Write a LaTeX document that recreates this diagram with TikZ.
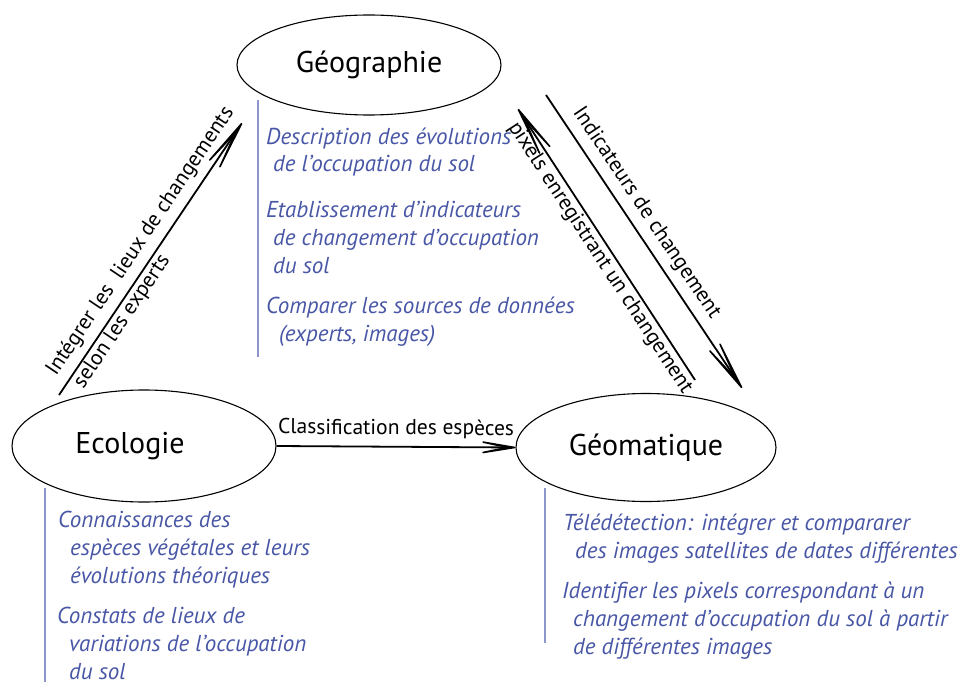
\documentclass[tikz,border=0pt]{standalone}
\usepackage{fontspec}
\setmainfont{PT Sans}
\usetikzlibrary{arrows.meta,shapes.geometric}
\definecolor{itemblue}{RGB}{72,86,166}
\definecolor{barblue}{RGB}{140,150,205}
\begin{document}
\begin{tikzpicture}[x=1pt,y=1pt,
  field/.style={draw, ellipse, line width=1.1pt, inner sep=0pt, font=\fontsize{30}{32}\selectfont},
  item/.style={anchor=base west, inner sep=0pt, align=left, text=itemblue, font=\itshape\fontsize{23}{28}\selectfont},
  flow/.style={line width=1.8pt, -{Stealth[length=98pt,width=25pt,inset=76pt,round,line width=1.6pt]}},
  flowback/.style={line width=1.8pt, {Stealth[length=98pt,width=25pt,inset=76pt,round,line width=1.6pt]}-},
  shortflow/.style={line width=1.8pt, -{Stealth[length=70pt,width=23pt,inset=54pt,round,line width=1.6pt]}},
  flowlabel/.style={font=\fontsize{21.5}{23}\selectfont, sloped, inner sep=1pt},
  bar/.style={draw=barblue, line width=1.8pt}]
\useasboundingbox (0,-682) rectangle (962,0);

% fields
\node[field, minimum width=264pt, minimum height=100pt] (geo) at (369,-65) {Géographie};
\node[field, minimum width=264pt, minimum height=112pt] (eco) at (144,-446) {Ecologie\hspace*{28pt}};
\node[field, minimum width=260pt, minimum height=108pt] (geom) at (646,-447.5) {Géomatique};

% vertical bars
\draw[bar] (258,-100) -- (258,-357);
\draw[bar] (45,-488) -- (45,-682);
\draw[bar] (545,-488) -- (545,-643);

% items (anchored at the baseline of their last line)
\node[item] (g1) at (266,-172) {Description des évolutions\\\hspace*{7pt}de l'occupation du sol};
\node[item] (g2) at (266,-273) {Etablissement d'indicateurs\\\hspace*{7pt}de changement d'occupation\\\hspace*{7pt}du sol};
\node[item] (g3) at (266,-341) {Comparer les sources de données\\\hspace*{13pt}(experts, images)};

\node[item] (e1) at (58,-583) {Connaissances des\\\hspace*{12pt}espèces végétales et leurs\\\hspace*{12pt}évolutions théoriques};
\node[item] (e2) at (57,-679) {Constats de lieux de\\\hspace*{12pt}variations de l'occupation\\\hspace*{12pt}du sol};

\node[item] (m1) at (563,-558) {Télédétection: intégrer et compararer\\\hspace*{12pt}des images satellites de dates différentes};
\node[item] (m2) at (562,-654) {Identifier les pixels correspondant à un\\\hspace*{11pt}changement d'occupation du sol à partir\\\hspace*{11pt}de différentes images};

% connector ends
\coordinate (a1s) at (59,-395);
\coordinate (a1t) at (242,-123);
\coordinate (a2s) at (546,-95);
\coordinate (a2t) at (742,-388);
\coordinate (a3s) at (695,-380);
\coordinate (a3t) at (518,-109);

% connectors
\draw[flow] (a1s) -- node[flowlabel, above=6pt, pos=0.527] (l1a) {Intégrer les\ \ lieux de changements}
                     node[flowlabel, below=0pt, pos=0.294] (l1b) {selon les experts} (a1t);
\draw[flow] (a2s) -- node[flowlabel, above=6pt, pos=0.437] (l2) {Indicateurs de changement} (a2t);
\draw[flowback] (a3t) -- node[flowlabel, below=1pt, pos=0.524] (l3) {pixels enregistrant un changement} (a3s);
\draw[shortflow] (eco.east) -- node[flowlabel, above=6pt, pos=0.5] (l4) {Classification des espèces} (geom.west);
\end{tikzpicture}
\end{document}
